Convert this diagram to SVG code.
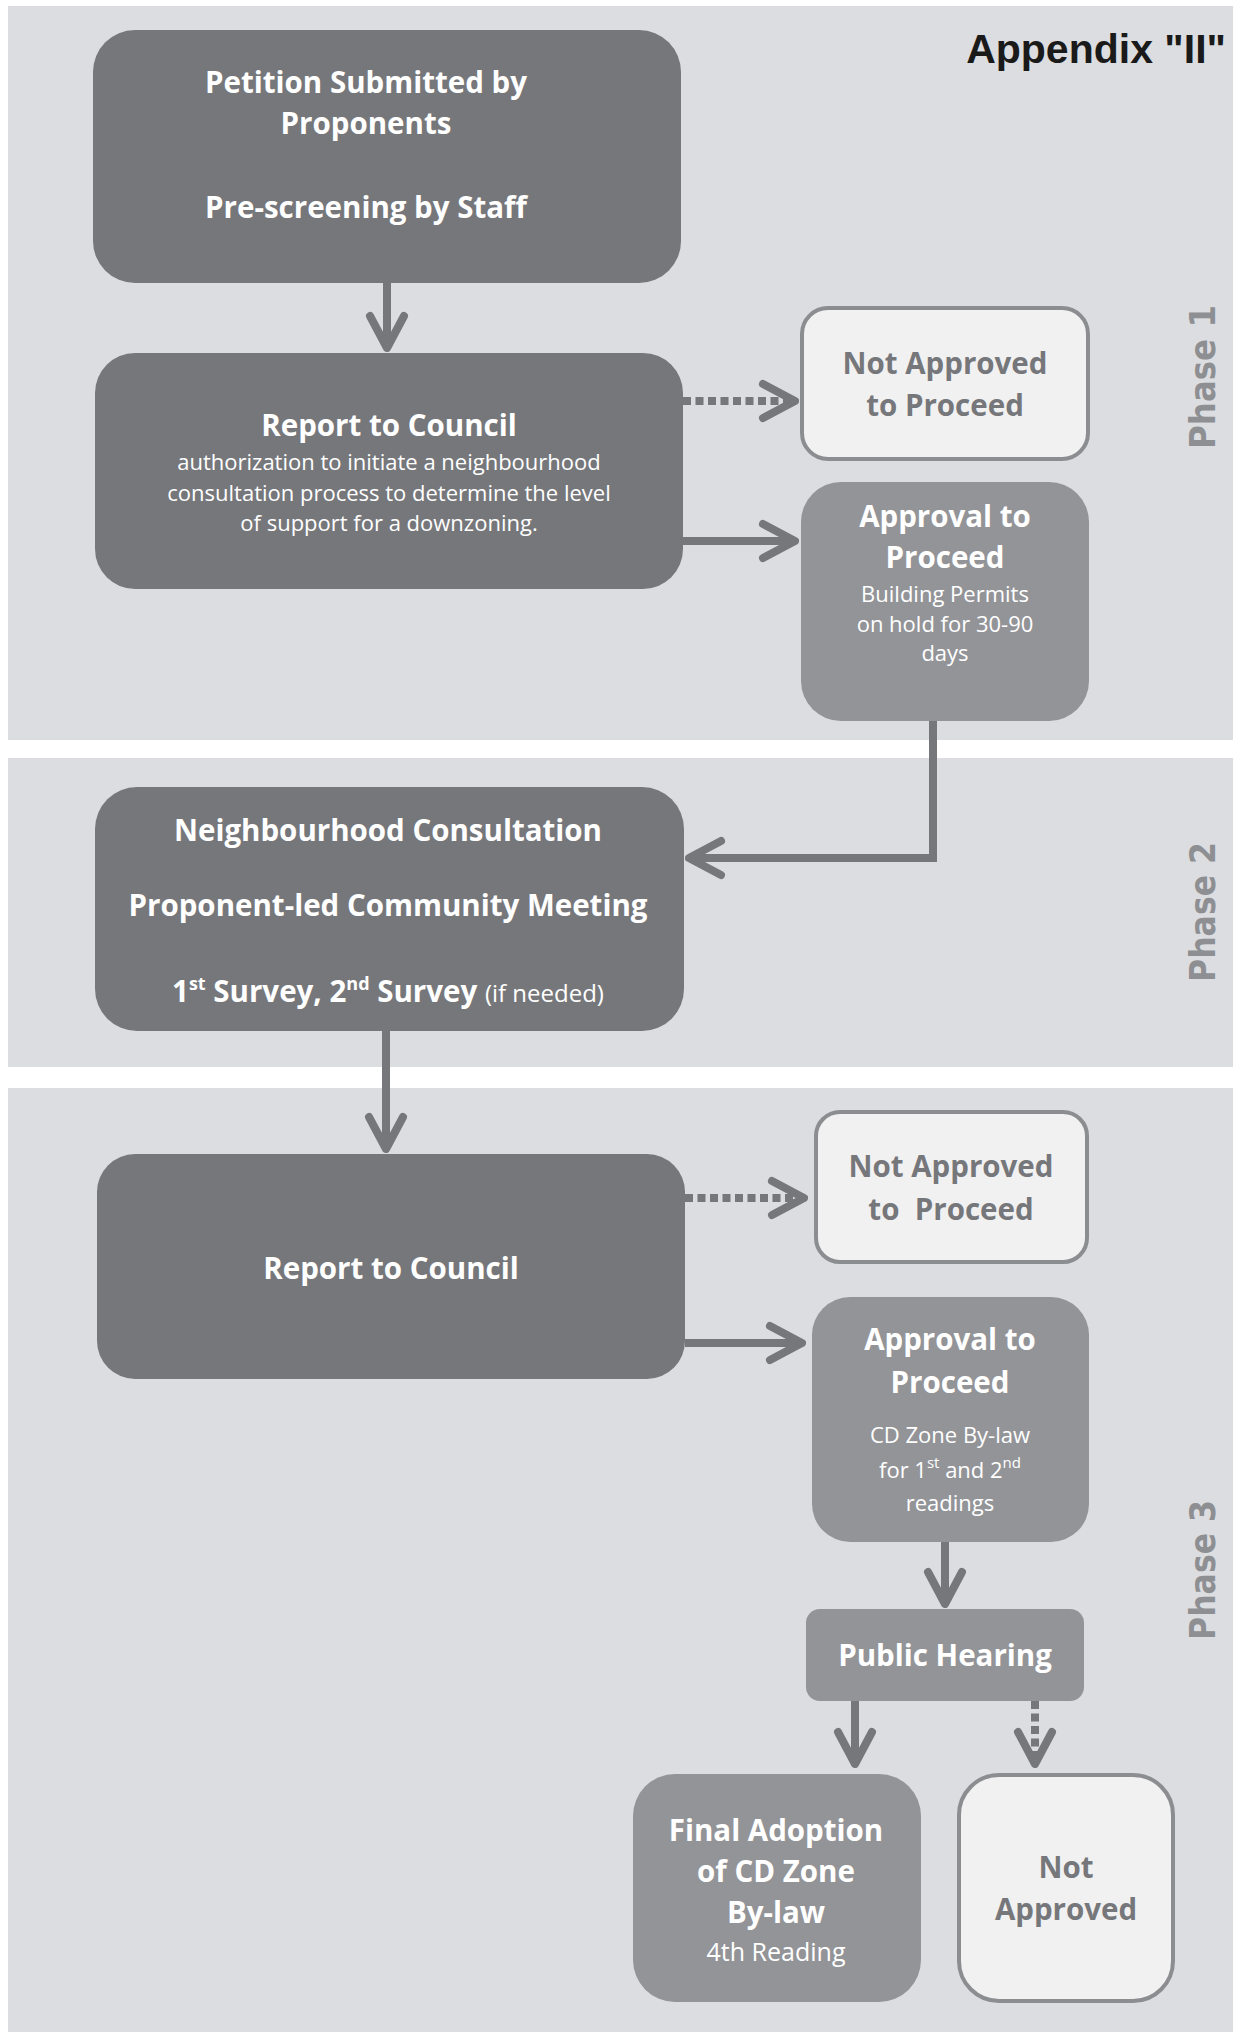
<svg xmlns="http://www.w3.org/2000/svg" width="1233" height="2032" viewBox="0 0 1233 2032">
<style>
.bg{fill:#dcdde0}
.dark{fill:#76777b}
.mid{fill:#939498}
.light{fill:#f1f1f1;stroke:#8c8d90;stroke-width:4}
text{font-family:"Open Sans","Noto Sans",sans-serif;text-anchor:middle}
.h{font-size:29.5px;font-weight:700;fill:#ffffff}
.s{font-size:22px;font-weight:400;fill:#ffffff}
.hg{font-size:29.5px;font-weight:700;fill:#76777b}
.phase{font-family:"DejaVu Sans",sans-serif;font-weight:700;font-size:36px;fill:#8e8f92}
.title{font-family:"Liberation Sans",Arial,sans-serif;font-weight:700;font-size:41px;fill:#1a1a1a;text-anchor:end}
.conn{fill:none;stroke:#76777b;stroke-width:8}
.dot{stroke-dasharray:8 4.5}
</style>
<defs>
<marker id="chev" viewBox="-40 -24 48 48" markerWidth="48" markerHeight="48" refX="4" refY="0" orient="auto" markerUnits="userSpaceOnUse">
<path d="M -28 -17 L 4 0 L -28 17" fill="none" stroke="#76777b" stroke-width="8" stroke-linecap="round" stroke-linejoin="round"/>
</marker>
</defs>

<g id="panels">
<rect class="bg" x="8" y="6" width="1225" height="734"/>
<rect class="bg" x="8" y="758" width="1225" height="309"/>
<rect class="bg" x="8" y="1088" width="1225" height="944"/>
</g>

<text id="title" class="title" x="1226" y="63">Appendix "II"</text>
<g id="phase-labels">
<text class="phase" transform="translate(1215,377) rotate(-90)" textLength="144" lengthAdjust="spacingAndGlyphs">Phase 1</text>
<text class="phase" transform="translate(1215,912) rotate(-90)" textLength="140" lengthAdjust="spacingAndGlyphs">Phase 2</text>
<text class="phase" transform="translate(1215,1570) rotate(-90)" textLength="140" lengthAdjust="spacingAndGlyphs">Phase 3</text>
</g>

<g id="connectors">
<path class="conn" d="M 387 283 V 348" marker-end="url(#chev)"/>
<path class="conn dot" d="M 683 401 H 795" marker-end="url(#chev)"/>
<path class="conn" d="M 683 541 H 795" marker-end="url(#chev)"/>
<path class="conn" d="M 933 721 V 858 H 689" marker-end="url(#chev)"/>
<path class="conn" d="M 386 1031 V 1149" marker-end="url(#chev)"/>
<path class="conn dot" d="M 685 1198 H 804" marker-end="url(#chev)"/>
<path class="conn" d="M 685 1343 H 802" marker-end="url(#chev)"/>
<path class="conn" d="M 945 1542 V 1604" marker-end="url(#chev)"/>
<path class="conn" d="M 855 1701 V 1764" marker-end="url(#chev)"/>
<path class="conn dot" d="M 1035 1701 V 1764" marker-end="url(#chev)"/>
</g>

<g id="petition">
<rect class="dark" x="93" y="30" width="588" height="253" rx="42"/>
<text class="h" x="366" y="93">Petition Submitted by</text>
<text class="h" x="366" y="134">Proponents</text>
<text class="h" x="366" y="218">Pre-screening by Staff</text>
</g>

<g id="report1">
<rect class="dark" x="95" y="353" width="588" height="236" rx="40"/>
<text class="h" x="389" y="436">Report to Council</text>
<text class="s" x="389" y="470">authorization to initiate a neighbourhood</text>
<text class="s" x="389" y="501">consultation process to determine the level</text>
<text class="s" x="389" y="531">of support for a downzoning.</text>
</g>

<g id="notapproved1">
<rect class="light" x="802" y="308" width="286" height="151" rx="26"/>
<text class="hg" x="945" y="374">Not Approved</text>
<text class="hg" x="945" y="416">to Proceed</text>
</g>

<g id="approval1">
<rect class="mid" x="801" y="482" width="288" height="239" rx="40"/>
<text class="h" x="945" y="527">Approval to</text>
<text class="h" x="945" y="568">Proceed</text>
<text class="s" x="945" y="602">Building Permits</text>
<text class="s" x="945" y="632">on hold for 30-90</text>
<text class="s" x="945" y="661">days</text>
</g>

<g id="consultation">
<rect class="dark" x="95" y="787" width="589" height="244" rx="42"/>
<text class="h" x="388" y="841">Neighbourhood Consultation</text>
<text class="h" x="388" y="916">Proponent-led Community Meeting</text>
<text class="h" x="388" y="1002">1<tspan font-size="18" baseline-shift="super">st</tspan> Survey, 2<tspan font-size="18" baseline-shift="super">nd</tspan> Survey <tspan font-weight="400" font-size="24">(if needed)</tspan></text>
</g>

<g id="report3">
<rect class="dark" x="97" y="1154" width="588" height="225" rx="38"/>
<text class="h" x="391" y="1279">Report to Council</text>
</g>

<g id="notapproved3">
<rect class="light" x="816" y="1112" width="271" height="150" rx="24"/>
<text class="hg" x="951" y="1177">Not Approved</text>
<text class="hg" x="951" y="1220" xml:space="preserve">to  Proceed</text>
</g>

<g id="approval3">
<rect class="mid" x="812" y="1297" width="277" height="245" rx="38"/>
<text class="h" x="950" y="1350">Approval to</text>
<text class="h" x="950" y="1393">Proceed</text>
<text class="s" x="950" y="1443">CD Zone By-law</text>
<text class="s" x="950" y="1478">for 1<tspan font-size="15" baseline-shift="super">st</tspan> and 2<tspan font-size="15" baseline-shift="super">nd</tspan></text>
<text class="s" x="950" y="1511">readings</text>
</g>

<g id="publichearing">
<rect class="mid" x="806" y="1609" width="278" height="92" rx="14"/>
<text class="h" x="945" y="1666">Public Hearing</text>
</g>

<g id="finaladoption">
<rect class="mid" x="633" y="1774" width="288" height="228" rx="42"/>
<text class="h" x="776" y="1841">Final Adoption</text>
<text class="h" x="776" y="1882">of CD Zone</text>
<text class="h" x="776" y="1923">By-law</text>
<text class="s" x="776" y="1961" style="font-size:25px">4th Reading</text>
</g>

<g id="notapproved-final">
<rect class="light" x="959" y="1775" width="214" height="226" rx="40"/>
<text class="hg" x="1066" y="1878">Not</text>
<text class="hg" x="1066" y="1920">Approved</text>
</g>
</svg>
